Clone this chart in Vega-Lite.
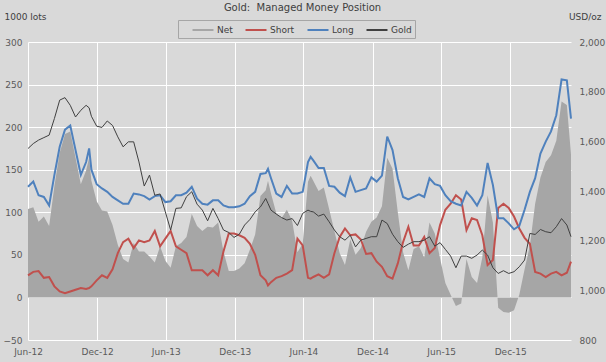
{
  "$schema": "https://vega.github.io/schema/vega-lite/v6.json",
  "width": 543,
  "height": 298,
  "autosize": {"type": "none"},
  "padding": {"left": 28, "top": 42, "right": 35, "bottom": 22},
  "background": "#d9d9d9",
  "config": {
    "view": {"stroke": null, "fill": "#d9d9d9"},
    "font": "DejaVu Sans",
    "axis": {
      "labelFont": "DejaVu Sans",
      "labelFontSize": 9,
      "labelColor": "#595959",
      "titleFont": "DejaVu Sans",
      "titleFontSize": 9,
      "titleFontWeight": "normal",
      "titleColor": "#404040",
      "ticks": false,
      "domain": false,
      "gridColor": "#ffffff",
      "gridOpacity": 1,
      "gridWidth": 1
    }
  },
  "title": {
    "text": "Gold:\u00a0 Managed Money Position",
    "font": "DejaVu Sans",
    "fontSize": 10,
    "fontWeight": "normal",
    "color": "#404040",
    "anchor": "middle",
    "frame": "group",
    "dx": 3,
    "offset": -1
  },
  "data": {
    "values": [
      {"d": "2012-06-01", "long": 130, "short": 26, "net": 104, "gold": 1571},
      {"d": "2012-06-15", "long": 136, "short": 30, "net": 106, "gold": 1591},
      {"d": "2012-06-29", "long": 120, "short": 31, "net": 89, "gold": 1605},
      {"d": "2012-07-13", "long": 118, "short": 23, "net": 95, "gold": 1615},
      {"d": "2012-07-27", "long": 108, "short": 24, "net": 84, "gold": 1625},
      {"d": "2012-08-10", "long": 144, "short": 13, "net": 131, "gold": 1692},
      {"d": "2012-08-24", "long": 177, "short": 7, "net": 170, "gold": 1766},
      {"d": "2012-09-07", "long": 197, "short": 5, "net": 192, "gold": 1776},
      {"d": "2012-09-21", "long": 202, "short": 7, "net": 195, "gold": 1745},
      {"d": "2012-10-05", "long": 173, "short": 9, "net": 164, "gold": 1698},
      {"d": "2012-10-19", "long": 144, "short": 11, "net": 133, "gold": 1725},
      {"d": "2012-11-02", "long": 159, "short": 10, "net": 149, "gold": 1745},
      {"d": "2012-11-10", "long": 175, "short": 11, "net": 164, "gold": 1735},
      {"d": "2012-11-16", "long": 150, "short": 13, "net": 137, "gold": 1701},
      {"d": "2012-11-30", "long": 133, "short": 20, "net": 113, "gold": 1661},
      {"d": "2012-12-14", "long": 128, "short": 26, "net": 102, "gold": 1656},
      {"d": "2012-12-28", "long": 124, "short": 23, "net": 101, "gold": 1682},
      {"d": "2013-01-11", "long": 118, "short": 33, "net": 85, "gold": 1664},
      {"d": "2013-01-25", "long": 114, "short": 52, "net": 62, "gold": 1618},
      {"d": "2013-02-08", "long": 110, "short": 65, "net": 45, "gold": 1578},
      {"d": "2013-02-22", "long": 110, "short": 69, "net": 41, "gold": 1598},
      {"d": "2013-03-08", "long": 122, "short": 58, "net": 64, "gold": 1598},
      {"d": "2013-03-22", "long": 121, "short": 67, "net": 54, "gold": 1517},
      {"d": "2013-04-05", "long": 119, "short": 65, "net": 54, "gold": 1420},
      {"d": "2013-04-19", "long": 115, "short": 67, "net": 48, "gold": 1464},
      {"d": "2013-05-03", "long": 119, "short": 78, "net": 41, "gold": 1383},
      {"d": "2013-05-17", "long": 120, "short": 60, "net": 60, "gold": 1388},
      {"d": "2013-05-31", "long": 112, "short": 69, "net": 43, "gold": 1316},
      {"d": "2013-06-14", "long": 113, "short": 78, "net": 35, "gold": 1243},
      {"d": "2013-06-28", "long": 120, "short": 60, "net": 60, "gold": 1330},
      {"d": "2013-07-12", "long": 120, "short": 56, "net": 64, "gold": 1332},
      {"d": "2013-07-26", "long": 123, "short": 52, "net": 71, "gold": 1377},
      {"d": "2013-08-09", "long": 130, "short": 32, "net": 98, "gold": 1397},
      {"d": "2013-08-23", "long": 116, "short": 32, "net": 84, "gold": 1347},
      {"d": "2013-09-06", "long": 110, "short": 32, "net": 78, "gold": 1323},
      {"d": "2013-09-20", "long": 109, "short": 26, "net": 83, "gold": 1280},
      {"d": "2013-10-04", "long": 114, "short": 32, "net": 82, "gold": 1330},
      {"d": "2013-10-18", "long": 114, "short": 26, "net": 88, "gold": 1289},
      {"d": "2013-11-01", "long": 108, "short": 54, "net": 54, "gold": 1243},
      {"d": "2013-11-15", "long": 106, "short": 75, "net": 31, "gold": 1233},
      {"d": "2013-11-29", "long": 106, "short": 75, "net": 31, "gold": 1213},
      {"d": "2013-12-13", "long": 107, "short": 73, "net": 34, "gold": 1226},
      {"d": "2013-12-27", "long": 110, "short": 70, "net": 40, "gold": 1263},
      {"d": "2014-01-10", "long": 119, "short": 63, "net": 56, "gold": 1285},
      {"d": "2014-01-24", "long": 124, "short": 50, "net": 74, "gold": 1316},
      {"d": "2014-02-07", "long": 145, "short": 26, "net": 119, "gold": 1336},
      {"d": "2014-02-21", "long": 146, "short": 20, "net": 126, "gold": 1370},
      {"d": "2014-02-27", "long": 151, "short": 14, "net": 137, "gold": 1350},
      {"d": "2014-03-07", "long": 140, "short": 18, "net": 122, "gold": 1323},
      {"d": "2014-03-21", "long": 122, "short": 23, "net": 99, "gold": 1307},
      {"d": "2014-04-04", "long": 118, "short": 25, "net": 93, "gold": 1293},
      {"d": "2014-04-18", "long": 131, "short": 28, "net": 103, "gold": 1283},
      {"d": "2014-05-02", "long": 122, "short": 32, "net": 90, "gold": 1289},
      {"d": "2014-05-16", "long": 122, "short": 69, "net": 53, "gold": 1261},
      {"d": "2014-05-30", "long": 124, "short": 61, "net": 63, "gold": 1310},
      {"d": "2014-06-13", "long": 159, "short": 23, "net": 136, "gold": 1323},
      {"d": "2014-06-20", "long": 165, "short": 22, "net": 143, "gold": 1318},
      {"d": "2014-06-27", "long": 161, "short": 24, "net": 137, "gold": 1316},
      {"d": "2014-07-11", "long": 152, "short": 27, "net": 125, "gold": 1299},
      {"d": "2014-07-25", "long": 152, "short": 23, "net": 129, "gold": 1307},
      {"d": "2014-08-08", "long": 131, "short": 27, "net": 104, "gold": 1276},
      {"d": "2014-08-22", "long": 130, "short": 52, "net": 78, "gold": 1243},
      {"d": "2014-09-05", "long": 123, "short": 71, "net": 52, "gold": 1216},
      {"d": "2014-09-19", "long": 119, "short": 81, "net": 38, "gold": 1202},
      {"d": "2014-10-03", "long": 141, "short": 73, "net": 68, "gold": 1222},
      {"d": "2014-10-17", "long": 124, "short": 74, "net": 50, "gold": 1175},
      {"d": "2014-10-31", "long": 126, "short": 68, "net": 58, "gold": 1202},
      {"d": "2014-11-14", "long": 128, "short": 51, "net": 77, "gold": 1209},
      {"d": "2014-11-28", "long": 141, "short": 52, "net": 89, "gold": 1216},
      {"d": "2014-12-12", "long": 136, "short": 42, "net": 94, "gold": 1216},
      {"d": "2014-12-26", "long": 143, "short": 36, "net": 107, "gold": 1283},
      {"d": "2015-01-09", "long": 189, "short": 25, "net": 164, "gold": 1269},
      {"d": "2015-01-23", "long": 173, "short": 22, "net": 151, "gold": 1226},
      {"d": "2015-02-06", "long": 140, "short": 40, "net": 100, "gold": 1196},
      {"d": "2015-02-20", "long": 118, "short": 65, "net": 53, "gold": 1173},
      {"d": "2015-03-06", "long": 115, "short": 83, "net": 32, "gold": 1186},
      {"d": "2015-03-20", "long": 118, "short": 61, "net": 57, "gold": 1196},
      {"d": "2015-04-03", "long": 121, "short": 61, "net": 60, "gold": 1196},
      {"d": "2015-04-17", "long": 118, "short": 71, "net": 47, "gold": 1202},
      {"d": "2015-05-01", "long": 140, "short": 52, "net": 88, "gold": 1216},
      {"d": "2015-05-15", "long": 133, "short": 58, "net": 75, "gold": 1178},
      {"d": "2015-05-29", "long": 131, "short": 85, "net": 46, "gold": 1192},
      {"d": "2015-06-12", "long": 120, "short": 103, "net": 17, "gold": 1165},
      {"d": "2015-06-26", "long": 113, "short": 110, "net": 3, "gold": 1138},
      {"d": "2015-07-10", "long": 110, "short": 120, "net": -10, "gold": 1091},
      {"d": "2015-07-24", "long": 108, "short": 115, "net": -7, "gold": 1138},
      {"d": "2015-08-07", "long": 124, "short": 79, "net": 45, "gold": 1138},
      {"d": "2015-08-21", "long": 117, "short": 93, "net": 24, "gold": 1129},
      {"d": "2015-09-04", "long": 108, "short": 91, "net": 17, "gold": 1142},
      {"d": "2015-09-18", "long": 120, "short": 73, "net": 47, "gold": 1162},
      {"d": "2015-10-02", "long": 158, "short": 38, "net": 120, "gold": 1142},
      {"d": "2015-10-16", "long": 132, "short": 44, "net": 88, "gold": 1091},
      {"d": "2015-10-30", "long": 93, "short": 105, "net": -12, "gold": 1068},
      {"d": "2015-11-13", "long": 93, "short": 110, "net": -17, "gold": 1079},
      {"d": "2015-11-27", "long": 87, "short": 105, "net": -18, "gold": 1068},
      {"d": "2015-12-11", "long": 80, "short": 95, "net": -15, "gold": 1075},
      {"d": "2015-12-25", "long": 84, "short": 81, "net": 3, "gold": 1095},
      {"d": "2016-01-08", "long": 103, "short": 70, "net": 33, "gold": 1122},
      {"d": "2016-01-22", "long": 124, "short": 63, "net": 61, "gold": 1229},
      {"d": "2016-02-05", "long": 140, "short": 30, "net": 110, "gold": 1225},
      {"d": "2016-02-19", "long": 169, "short": 28, "net": 141, "gold": 1245},
      {"d": "2016-03-04", "long": 183, "short": 24, "net": 159, "gold": 1236},
      {"d": "2016-03-18", "long": 195, "short": 28, "net": 167, "gold": 1232},
      {"d": "2016-04-01", "long": 214, "short": 30, "net": 184, "gold": 1256},
      {"d": "2016-04-15", "long": 256, "short": 26, "net": 230, "gold": 1289},
      {"d": "2016-04-29", "long": 255, "short": 29, "net": 226, "gold": 1263},
      {"d": "2016-05-10", "long": 210, "short": 42, "net": 168, "gold": 1216}
    ]
  },
  "encoding": {
    "x": {
      "field": "d",
      "type": "temporal",
      "scale": {"type": "utc", "domain": ["2012-06-01", "2016-05-10"]},
      "axis": {
        "title": null,
        "format": "%b-%y",
        "values": [
          {"year": 2012, "month": 6, "date": 1, "utc": true},
          {"year": 2012, "month": 12, "date": 1, "utc": true},
          {"year": 2013, "month": 6, "date": 1, "utc": true},
          {"year": 2013, "month": 12, "date": 1, "utc": true},
          {"year": 2014, "month": 6, "date": 1, "utc": true},
          {"year": 2014, "month": 12, "date": 1, "utc": true},
          {"year": 2015, "month": 6, "date": 1, "utc": true},
          {"year": 2015, "month": 12, "date": 1, "utc": true}
        ],
        "grid": true,
        "labelPadding": 7,
        "labelFlush": false,
        "labelOverlap": false
      }
    }
  },
  "layer": [
    {
      "mark": {"type": "area", "opacity": 1},
      "encoding": {
        "y": {
          "field": "net",
          "type": "quantitative",
          "scale": {"domain": [-50, 300], "nice": false},
          "axis": {
            "title": "1000 lots",
            "titleAngle": 0,
            "titleAlign": "left",
            "titleBaseline": "middle",
            "titleX": -24,
            "titleY": -26,
            "values": [-50, 0, 50, 100, 150, 200, 250, 300],
            "grid": true,
            "labelPadding": 6
          }
        },
        "color": {
          "datum": "Net",
          "scale": {
            "domain": ["Net", "Short", "Long", "Gold"],
            "range": ["#a6a6a6", "#c0504d", "#4f81bd", "#404040"]
          },
          "legend": {
            "orient": "none",
            "legendX": 150,
            "legendY": -22,
            "direction": "horizontal",
            "title": " ",
            "titleOrient": "left",
            "titleFontSize": 9,
            "titlePadding": 15,
            "symbolType": "M-1.75,0H1.75",
            "symbolSize": 144,
            "symbolStrokeWidth": 2,
            "labelFont": "DejaVu Sans",
            "labelFontSize": 9,
            "labelColor": "#404040",
            "labelOffset": 7,
            "columnPadding": 8,
            "padding": 3,
            "strokeColor": "#a6a6a6",
            "encode": {
              "symbols": {
                "update": {
                  "shape": {"signal": "datum.value === 'Net' ? 'M-1.75,-0.33H1.75V0.33H-1.75Z' : 'M-1.75,0H1.75'"},
                  "fill": {"signal": "datum.value === 'Net' ? '#a6a6a6' : 'transparent'"},
                  "stroke": {"signal": "datum.value === 'Net' ? 'transparent' : datum.value === 'Short' ? '#c0504d' : datum.value === 'Long' ? '#4f81bd' : '#404040'"},
                  "strokeWidth": {"signal": "datum.value === 'Gold' ? 1 : 2"},
                  "opacity": {"value": 1}
                }
              }
            }
          }
        }
      }
    },
    {
      "mark": {"type": "line", "strokeWidth": 2},
      "encoding": {
        "y": {"field": "short", "type": "quantitative", "scale": {"domain": [-50, 300], "nice": false}, "axis": null},
        "color": {"datum": "Short"}
      }
    },
    {
      "mark": {"type": "line", "strokeWidth": 2},
      "encoding": {
        "y": {"field": "long", "type": "quantitative", "scale": {"domain": [-50, 300], "nice": false}, "axis": null},
        "color": {"datum": "Long"}
      }
    },
    {
      "mark": {"type": "line", "strokeWidth": 1},
      "encoding": {
        "y": {
          "field": "gold",
          "type": "quantitative",
          "scale": {"domain": [800, 2000], "nice": false},
          "axis": {
            "orient": "right",
            "title": "USD/oz",
            "titleAngle": 0,
            "titleAlign": "right",
            "titleBaseline": "middle",
            "titleX": 30,
            "titleY": -26,
            "values": [800, 1000, 1200, 1400, 1600, 1800, 2000],
            "format": ",.0f",
            "grid": false,
            "labelPadding": 8
          }
        },
        "color": {"datum": "Gold"}
      }
    }
  ],
  "resolve": {"scale": {"y": "independent"}}
}
